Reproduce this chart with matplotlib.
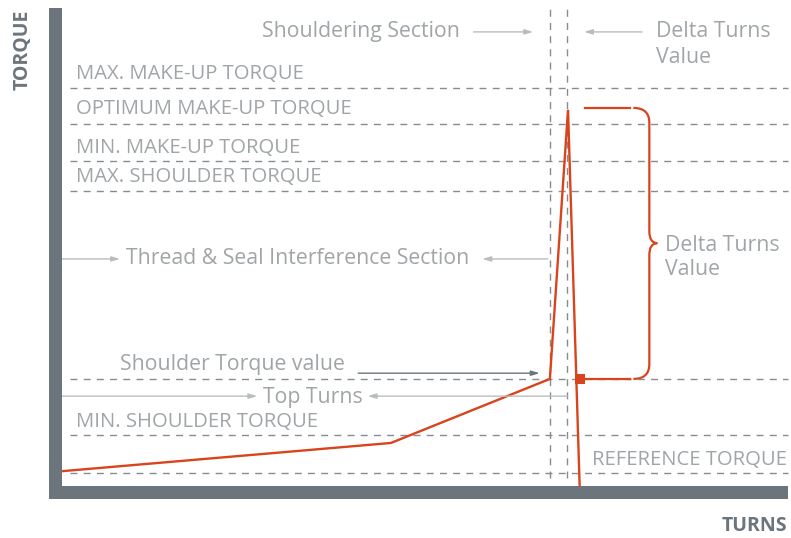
import matplotlib
matplotlib.use('Agg')
import matplotlib.pyplot as plt
from matplotlib.patches import Rectangle, PathPatch
from matplotlib.path import Path

plt.rcParams['font.family'] = ['Open Sans', 'DejaVu Sans']

# data (turns 0-100, torque 0-100, arbitrary units)
level_names = ['MAX. MAKE-UP TORQUE', 'OPTIMUM MAKE-UP TORQUE', 'MIN. MAKE-UP TORQUE',
               'MAX. SHOULDER TORQUE', 'MIN. SHOULDER TORQUE']
level_torque = [83.3, 75.7, 68.0, 61.7, 10.7]
level_label_y = [86.2, 78.9, 70.7, 64.7, 13.4]
shoulder_torque = 22.4
reference_torque = 2.7
section_turns = [67.2, 69.6]

curve_turns = [0, 45.3, 67.2, 69.7, 71.3]
curve_torque = [3.1, 9.0, 22.4, 78.7, 0]

peak_torque = 78.7
marker_turns = 71.3

RED = '#d9441c'
DARK = '#6c757b'
TXT = '#a0a5a8'
DASH = '#868c90'
ARR = '#b8bdc0'

fig = plt.figure(figsize=(7.91, 5.38), dpi=100)
W, H = 791, 538
ax = fig.add_axes([62 / W, 1 - 486 / H, 726 / W, 478 / H])
ax.set_xlim(0, 100)
ax.set_ylim(0, 100)
ax.axis('off')

# thick axis bars
fig.add_artist(Rectangle((49 / W, 1 - 499 / H), 13 / W, 491 / H, transform=fig.transFigure,
                         color=DARK, lw=0))
fig.add_artist(Rectangle((49 / W, 1 - 499 / H), 739 / W, 13 / H, transform=fig.transFigure,
                         color=DARK, lw=0))

ls = (0, (5, 4.5))
for t in level_torque + [shoulder_torque, reference_torque]:
    ax.plot([1.1, 100], [t, t], color=DASH, lw=1, ls=ls, clip_on=False)
for s in section_turns:
    ax.plot([s, s], [1.7, 100], color=DASH, lw=1, ls=ls, clip_on=False)

fs = 14.6
for name, y in zip(level_names, level_label_y):
    ax.text(1.9, y, name, color=TXT, fontsize=fs, va='center', ha='left')
ax.text(99.9, 5.5, 'REFERENCE TORQUE', color=TXT, fontsize=fs, va='center', ha='right')

# curve
ax.plot(curve_turns, curve_torque, color=RED, lw=1.7, clip_on=False, solid_joinstyle='miter')
ax.plot([marker_turns], [shoulder_torque], marker='s', ms=7, color=RED, mew=0)

# brace
ax.plot([72.0, 78.2], [79.1, 79.1], color=RED, lw=1.6)
ax.plot([72.0, 78.2], [shoulder_torque, shoulder_torque], color=RED, lw=1.6)
bx, tip = 80.9, 82.0
mid = 50.8
verts = [(78.7, 79.1), (bx, 79.1), (bx, 76.0), (bx, 53.3), (bx, mid), (tip, mid),
         (bx, mid), (bx, 48.3), (bx, 25.5), (bx, shoulder_torque), (78.7, shoulder_torque)]
codes = [Path.MOVETO, Path.CURVE3, Path.CURVE3, Path.LINETO, Path.CURVE3, Path.CURVE3,
         Path.CURVE3, Path.CURVE3, Path.LINETO, Path.CURVE3, Path.CURVE3]
ax.add_patch(PathPatch(Path(verts, codes), fill=False, edgecolor=RED, lw=1.6))

fl = 15.3
ax.text(83.1, 50.4, 'Delta Turns', color=TXT, fontsize=fl, va='center', ha='left')
ax.text(83.1, 45.2, 'Value', color=TXT, fontsize=fl, va='center', ha='left')

# annotations
def arrow(x0, x1, y, color=ARR):
    ax.annotate('', xy=(x1, y), xytext=(x0, y),
                arrowprops=dict(arrowstyle='-|>,head_length=0.5,head_width=0.15',
                                color=color, lw=1, shrinkA=0, shrinkB=0))

ax.text(54.8, 95.0, 'Shouldering Section', color=TXT, fontsize=fl, va='center', ha='right')
arrow(56.7, 64.9, 95.0)
arrow(79.9, 71.9, 95.0)
ax.text(81.8, 95.0, 'Delta Turns', color=TXT, fontsize=fl, va='center', ha='left')
ax.text(81.8, 89.6, 'Value', color=TXT, fontsize=fl, va='center', ha='left')

ax.text(8.8, 47.5, 'Thread & Seal Interference Section', color=TXT, fontsize=fl,
        va='center', ha='left')
arrow(0, 8.0, 47.5)
arrow(66.9, 57.9, 47.5)

ax.text(8.0, 25.5, 'Shoulder Torque value', color=TXT, fontsize=fl, va='center', ha='left')
arrow(40.8, 65.8, 23.6, color=DARK)

ax.text(27.7, 18.6, 'Top Turns', color=TXT, fontsize=fl, va='center', ha='left')
arrow(0, 26.9, 18.8)
arrow(69.6, 42.1, 18.8)

fig.text(23 / W, 1 - 50 / H, 'TORQUE', color=DARK, fontsize=14, fontweight='bold',
         rotation=90, ha='center', va='center')
fig.text(787 / W, 1 - 526 / H, 'TURNS', color=DARK, fontsize=14, fontweight='bold',
         ha='right', va='center')

fig.savefig('out.png', dpi=100)
